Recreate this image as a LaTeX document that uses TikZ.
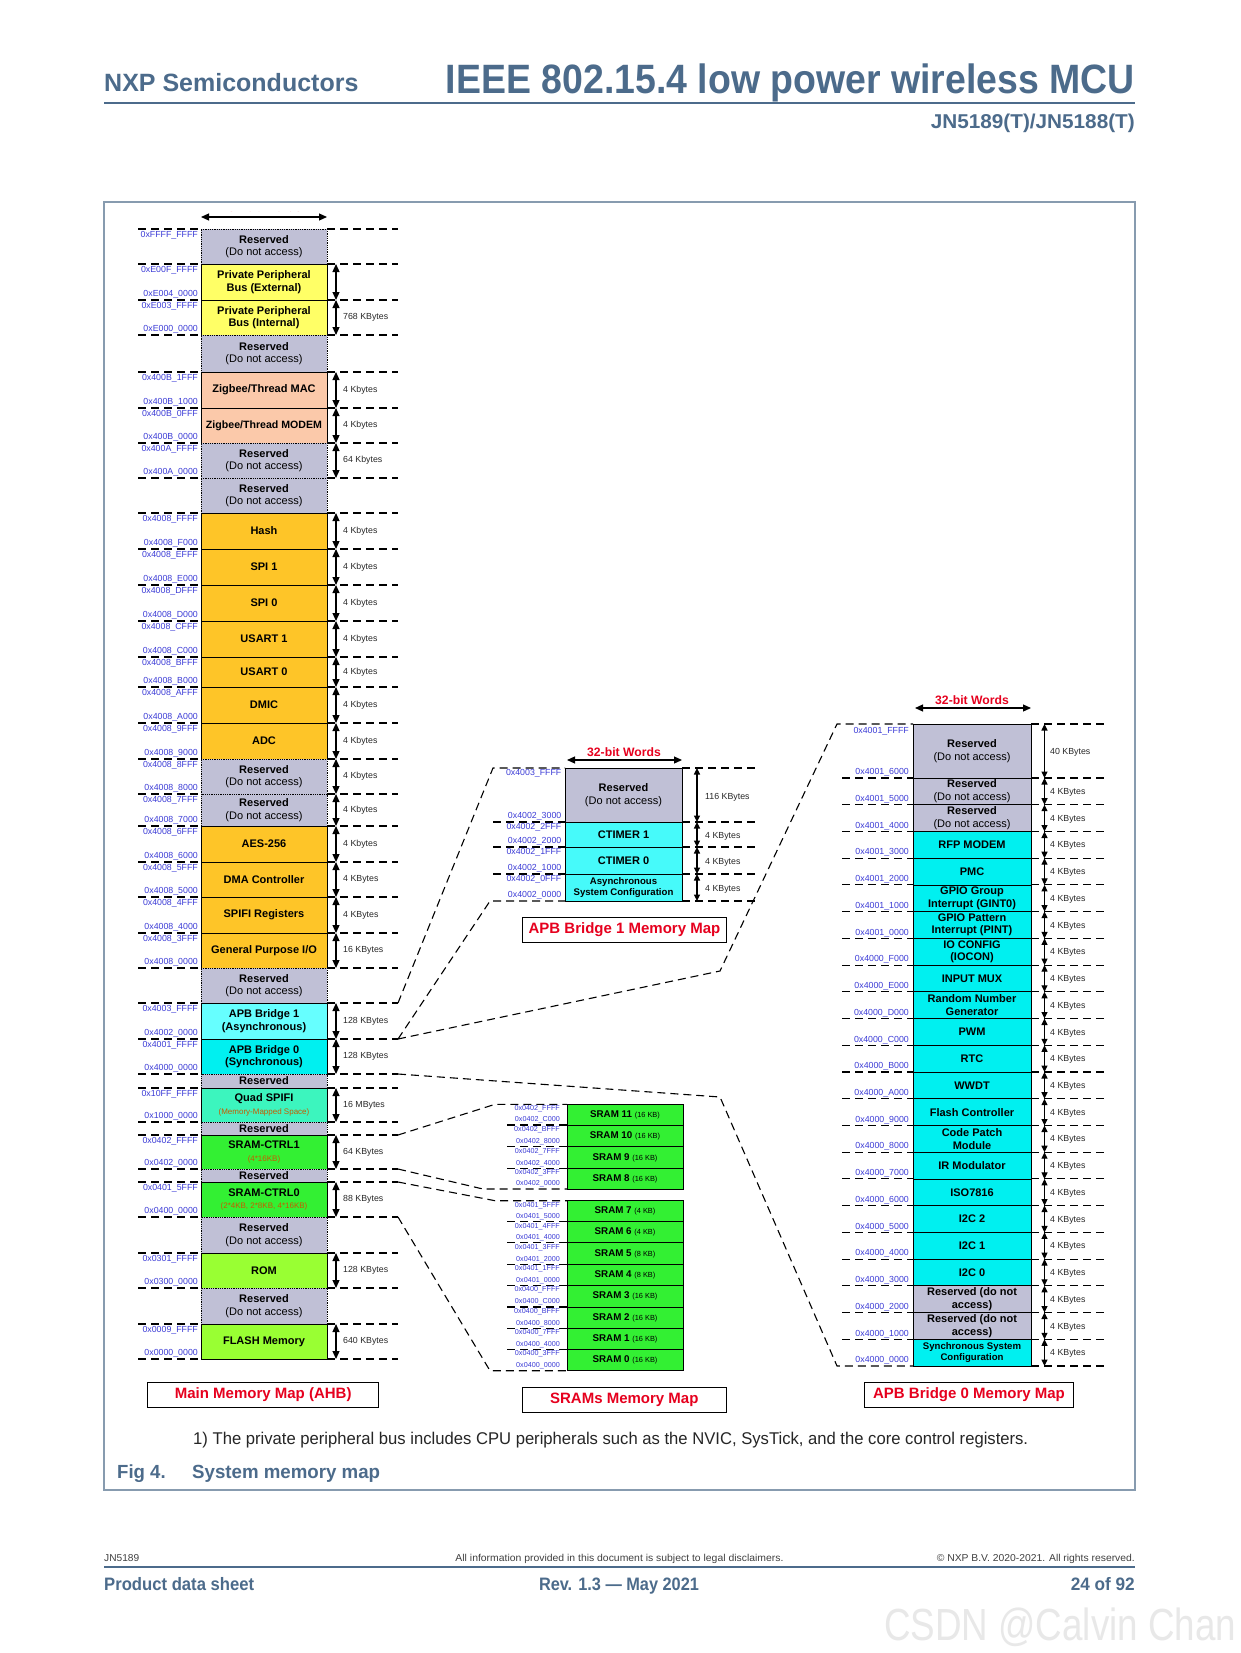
\documentclass[tikz,border=0pt]{standalone}
\usepackage{fontspec}
\setmainfont{Liberation Sans}
\usetikzlibrary{arrows.meta}
\definecolor{resv}{RGB}{192,192,214}
\definecolor{yel}{RGB}{255,255,102}
\definecolor{peach}{RGB}{251,201,170}
\definecolor{orng}{RGB}{254,197,40}
\definecolor{lcyan}{RGB}{102,255,255}
\definecolor{cyn}{RGB}{0,240,240}
\definecolor{tcyan}{RGB}{70,250,250}
\definecolor{aqua}{RGB}{60,245,190}
\definecolor{grn}{RGB}{51,240,51}
\definecolor{lime}{RGB}{153,255,51}
\definecolor{addrc}{RGB}{60,60,215}
\definecolor{subc}{RGB}{200,90,0}
\definecolor{redc}{RGB}{230,0,30}
\definecolor{hdr}{RGB}{76,107,139}
\definecolor{framec}{RGB}{135,155,175}
\definecolor{sizec}{RGB}{40,40,40}
\newcommand{\fs}[2]{\fontsize{#1}{#2}\selectfont}
\newcommand{\fitw}[2]{\resizebox{#1}{\height}{#2}}
\tikzset{
 cell/.style={draw, line width=0.8pt, inner sep=0pt, outer sep=0pt, align=center, font=\fs{11}{12.5}\bfseries, text=black},
 mcell/.style={cell, minimum width=126pt},
 rcell/.style={mcell, fill=resv, densely dotted},
 ocell/.style={mcell, fill=orng},
 addr/.style={anchor=east, inner sep=0pt, font=\fs{8.8}{9}, text=addrc},
 saddr/.style={anchor=east, inner sep=0pt, font=\fs{7.2}{8}, text=addrc},
 sz/.style={anchor=west, inner sep=0pt, font=\fs{8.8}{9}, text=sizec},
 dim/.style={{Triangle[length=8pt,width=7pt]}-{Triangle[length=8pt,width=7pt]}, line width=1.2pt},
 sdim/.style={{Triangle[length=6.5pt,width=6pt]}-{Triangle[length=6.5pt,width=6pt]}, line width=1.1pt},
 dsh/.style={dash pattern=on 8pt off 5pt, line width=1.1pt},
 mtitle/.style={draw, line width=1pt, inner sep=0pt, minimum height=25pt, font=\fs{15}{16}\bfseries, text=redc},
 wtitle/.style={inner sep=0pt, font=\fs{12.2}{13}\bfseries, text=redc},
 smallbold/.style={font=\fs{9.6}{11.5}\bfseries},
}
% main map row: name, y1, y2, style, text, top address, bottom address
\newcommand{\mrow}[7]{%
 \pgfmathsetmacro{\rowh}{#3-#2}%
 \node[#4, minimum height=\rowh pt, anchor=north west] (#1) at (201,#2) {#5};%
 \if\relax\detokenize{#6}\relax\else\node[addr] (#1t) at (198,#2+6.5) {#6};\fi
 \if\relax\detokenize{#7}\relax\else\node[addr] (#1b) at (198,#3-6) {#7};\fi
}
\newcommand{\msize}[2]{%
 \draw[dim] ([xshift=9pt]#1.north east) -- ([xshift=9pt]#1.south east);
 \if\relax\detokenize{#2}\relax\else\node[sz] (#1s) at ([xshift=16pt]#1.east) {#2};\fi
}
% APB bridge 1 row
\newcommand{\prow}[8]{%
 \pgfmathsetmacro{\rowh}{#3-#2}%
 \node[#4, minimum width=117pt, minimum height=\rowh pt, anchor=north west] (#1) at (565,#2) {#5};
 \node[addr] (#1t) at (561.5,#2+5.5) {#6};
 \node[addr] (#1b) at (561.5,#3-5.5) {#7};
 \draw[sdim] ([xshift=15pt]#1.north east) -- ([xshift=15pt]#1.south east);
 \node[sz] (#1s) at ([xshift=23pt,yshift=-2pt]#1.east) {#8};
}
% APB bridge 0 row
\newcommand{\brow}[7]{%
 \pgfmathsetmacro{\rowh}{#3-#2}%
 \node[#4, minimum width=118pt, minimum height=\rowh pt, anchor=north west] (#1) at (913,#2) {#5};
 \node[addr] (#1b) at (909,#3-5.5) {#6};
 \draw[sdim] ([xshift=13.5pt]#1.north east) -- ([xshift=13.5pt]#1.south east);
 \node[sz] (#1s) at ([xshift=19pt,yshift=-1pt]#1.east) {#7};
}
% SRAM row
\newcommand{\srow}[7]{%
 \pgfmathsetmacro{\rowh}{#3-#2}%
 \node[cell, fill=grn, font=\fs{9.8}{11}\bfseries, minimum width=116pt, minimum height=\rowh pt, anchor=north west] (#1) at (567,#2) {SRAM #4 {\mdseries\fs{7.4}{8}(#5)}};
 \node[saddr] (#1t) at (560,#2+4.5) {#6};
 \node[saddr] (#1b) at (560,#3-5) {#7};
}
\begin{document}
\begin{tikzpicture}[x=1pt,y=-1pt]
\useasboundingbox (0,0) rectangle (1240,1653);
\fill[white] (0,0) rectangle (1240,1653);

% header
\node[anchor=base west, inner sep=0pt, text=hdr, font=\fs{25}{26}\bfseries] (nxp) at (104,91.7) {NXP Semiconductors};
\node[anchor=base east, inner sep=0pt, text=hdr] (ttl) at (1135,93.8) {\fitw{689pt}{\fs{41}{43}\bfseries IEEE 802.15.4 low power wireless MCU}};
\draw[hdr, line width=1.2pt] (104,103) -- (1135,103);
\node[anchor=base east, inner sep=0pt, text=hdr] (part) at (1135,128.6) {\fitw{204pt}{\fs{20}{21}\bfseries JN5189(T)/JN5188(T)}};

% frame
\draw[framec, line width=1.5pt] (104,202) rectangle (1135,1490);

% ---------------- main memory map ----------------
\foreach \y in {229,264,300,335,372,408,443,478,513,549,585,621,657,687,723,759,794,826,862,897,933,968,1003,1039,1074,1088,1122,1135,1169,1182,1217,1253,1288,1324,1359}
 {\draw[dsh] (138,\y) -- (201,\y); \draw[dsh] (327,\y) -- (398,\y);}

\mrow{m1}{229}{264}{rcell}{Reserved\\{\mdseries(Do not access)}}{0xFFFF\_FFFF}{}
\mrow{m2}{264}{300}{mcell,fill=yel}{Private Peripheral\\Bus (External)}{0xE00F\_FFFF}{0xE004\_0000}
\mrow{m3}{300}{335}{mcell,fill=yel}{Private Peripheral\\Bus (Internal)}{0xE003\_FFFF}{0xE000\_0000}
\mrow{m4}{335}{372}{rcell}{Reserved\\{\mdseries(Do not access)}}{}{}
\mrow{m5}{372}{408}{mcell,fill=peach}{Zigbee/Thread MAC}{0x400B\_1FFF}{0x400B\_1000}
\mrow{m6}{408}{443}{mcell,fill=peach,font=\fs{10.6}{12}\bfseries}{Zigbee/Thread MODEM}{0x400B\_0FFF}{0x400B\_0000}
\mrow{m7}{443}{478}{rcell}{Reserved\\{\mdseries(Do not access)}}{0x400A\_FFFF}{0x400A\_0000}
\mrow{m8}{478}{513}{rcell}{Reserved\\{\mdseries(Do not access)}}{}{}
\mrow{m9}{513}{549}{ocell}{Hash}{0x4008\_FFFF}{0x4008\_F000}
\mrow{m10}{549}{585}{ocell}{SPI 1}{0x4008\_EFFF}{0x4008\_E000}
\mrow{m11}{585}{621}{ocell}{SPI 0}{0x4008\_DFFF}{0x4008\_D000}
\mrow{m12}{621}{657}{ocell}{USART 1}{0x4008\_CFFF}{0x4008\_C000}
\mrow{m13}{657}{687}{ocell}{USART 0}{0x4008\_BFFF}{0x4008\_B000}
\mrow{m14}{687}{723}{ocell}{DMIC}{0x4008\_AFFF}{0x4008\_A000}
\mrow{m15}{723}{759}{ocell}{ADC}{0x4008\_9FFF}{0x4008\_9000}
\mrow{m16}{759}{794}{rcell}{Reserved\\{\mdseries(Do not access)}}{0x4008\_8FFF}{0x4008\_8000}
\mrow{m17}{794}{826}{rcell}{Reserved\\{\mdseries(Do not access)}}{0x4008\_7FFF}{0x4008\_7000}
\mrow{m18}{826}{862}{ocell}{AES-256}{0x4008\_6FFF}{0x4008\_6000}
\mrow{m19}{862}{897}{ocell}{DMA Controller}{0x4008\_5FFF}{0x4008\_5000}
\mrow{m20}{897}{933}{ocell}{SPIFI Registers}{0x4008\_4FFF}{0x4008\_4000}
\mrow{m21}{933}{968}{ocell}{General Purpose I/O}{0x4008\_3FFF}{0x4008\_0000}
\mrow{m22}{968}{1003}{rcell}{Reserved\\{\mdseries(Do not access)}}{}{}
\mrow{m23}{1003}{1039}{mcell,fill=lcyan}{APB Bridge 1\\(Asynchronous)}{0x4003\_FFFF}{0x4002\_0000}
\mrow{m24}{1039}{1074}{mcell,fill=cyn}{APB Bridge 0\\(Synchronous)}{0x4001\_FFFF}{0x4000\_0000}
\mrow{m25}{1074}{1088}{rcell}{Reserved}{}{}
\mrow{m26}{1088}{1122}{mcell,fill=aqua}{Quad SPIFI\\{\mdseries\fs{8}{9.5}\color{subc}(Memory-Mapped Space)}}{0x10FF\_FFFF}{0x1000\_0000}
\mrow{m27}{1122}{1135}{rcell}{Reserved}{}{}
\mrow{m28}{1135}{1169}{mcell,fill=grn}{SRAM-CTRL1\\{\mdseries\fs{8}{9.5}\color{subc}(4*16KB)}}{0x0402\_FFFF}{0x0402\_0000}
\mrow{m29}{1169}{1182}{rcell}{Reserved}{}{}
\mrow{m30}{1182}{1217}{mcell,fill=grn}{SRAM-CTRL0\\{\mdseries\fs{8}{9.5}\color{subc}(2*4KB, 2*8KB, 4*16KB)}}{0x0401\_5FFF}{0x0400\_0000}
\mrow{m31}{1217}{1253}{rcell}{Reserved\\{\mdseries(Do not access)}}{}{}
\mrow{m32}{1253}{1288}{mcell,fill=lime}{ROM}{0x0301\_FFFF}{0x0300\_0000}
\mrow{m33}{1288}{1324}{rcell}{Reserved\\{\mdseries(Do not access)}}{}{}
\mrow{m34}{1324}{1359}{mcell,fill=lime}{FLASH Memory}{0x0009\_FFFF}{0x0000\_0000}

\msize{m2}{}
\msize{m3}{768 KBytes}
\msize{m5}{4 Kbytes}
\msize{m6}{4 Kbytes}
\msize{m7}{64 Kbytes}
\msize{m9}{4 Kbytes}
\msize{m10}{4 Kbytes}
\msize{m11}{4 Kbytes}
\msize{m12}{4 Kbytes}
\msize{m13}{4 Kbytes}
\msize{m14}{4 Kbytes}
\msize{m15}{4 Kbytes}
\msize{m16}{4 Kbytes}
\msize{m17}{4 Kbytes}
\msize{m18}{4 Kbytes}
\msize{m19}{4 KBytes}
\msize{m20}{4 KBytes}
\msize{m21}{16 KBytes}
\msize{m23}{128 KBytes}
\msize{m24}{128 KBytes}
\msize{m26}{16 MBytes}
\msize{m28}{64 KBytes}
\msize{m30}{88 KBytes}
\msize{m32}{128 KBytes}
\msize{m34}{640 KBytes}

\draw[dim] ([yshift=12pt]m1.north west) -- ([yshift=12pt]m1.north east);
\begin{scope}
 \clip (190,211.5) rectangle (340,230);
 \node[wtitle] (w0) at (265,207.5) {32-bit Words};
\end{scope}

% ---------------- APB bridge 1 map ----------------
\foreach \y in {822,847,874} {\draw[dsh] (493,\y) -- (565,\y);}
\foreach \y in {768,822,847,874,901} {\draw[dsh] (682,\y) -- (755,\y);}
\prow{p1}{768}{822}{cell,fill=resv}{Reserved\\{\mdseries(Do not access)}}{0x4003\_FFFF}{0x4002\_3000}{116 KBytes}
\prow{p2}{822}{847}{cell,fill=tcyan}{CTIMER 1}{0x4002\_2FFF}{0x4002\_2000}{4 KBytes}
\prow{p3}{847}{874}{cell,fill=tcyan}{CTIMER 0}{0x4002\_1FFF}{0x4002\_1000}{4 KBytes}
\prow{p4}{874}{901}{cell,fill=tcyan,smallbold}{Asynchronous\\System Configuration}{0x4002\_0FFF}{0x4002\_0000}{4 KBytes}
\node[wtitle] (w1) at (624,752) {32-bit Words};
\draw[dim] ([yshift=8pt,xshift=2pt]p1.north west) -- ([yshift=8pt]p1.north east);
\node[mtitle, minimum width=204pt, minimum height=24.6pt] (t4) at (624.5,930) {APB Bridge 1 Memory Map};

% ---------------- APB bridge 0 map ----------------
\foreach \y in {778,804.7,831.5,858.2,884.9,911.6,938.4,965.1,991.8,1018.5,1045.3,1072,1098.7,1125.5,1152.2,1178.9,1205.6,1232.4,1259.1,1285.8,1312.5,1339.3}
 {\draw[dsh] (842,\y) -- (913,\y);}
\foreach \y in {724,778,804.7,831.5,858.2,884.9,911.6,938.4,965.1,991.8,1018.5,1045.3,1072,1098.7,1125.5,1152.2,1178.9,1205.6,1232.4,1259.1,1285.8,1312.5,1339.3,1366}
 {\draw[dsh] (1031,\y) -- (1104,\y);}
\brow{b0}{724}{778}{cell,fill=resv}{Reserved\\{\mdseries(Do not access)}}{0x4001\_6000}{40 KBytes}
\node[addr] (b0t) at (909,731) {0x4001\_FFFF};
\brow{b1}{778}{804.7}{cell,fill=resv}{Reserved\\{\mdseries(Do not access)}}{0x4001\_5000}{4 KBytes}
\brow{b2}{804.7}{831.5}{cell,fill=resv}{Reserved\\{\mdseries(Do not access)}}{0x4001\_4000}{4 KBytes}
\brow{b3}{831.5}{858.2}{cell,fill=cyn}{RFP MODEM}{0x4001\_3000}{4 KBytes}
\brow{b4}{858.2}{884.9}{cell,fill=cyn}{PMC}{0x4001\_2000}{4 KBytes}
\brow{b5}{884.9}{911.6}{cell,fill=cyn}{GPIO Group\\Interrupt (GINT0)}{0x4001\_1000}{4 KBytes}
\brow{b6}{911.6}{938.4}{cell,fill=cyn}{GPIO Pattern\\Interrupt (PINT)}{0x4001\_0000}{4 KBytes}
\brow{b7}{938.4}{965.1}{cell,fill=cyn}{IO CONFIG\\(IOCON)}{0x4000\_F000}{4 KBytes}
\brow{b8}{965.1}{991.8}{cell,fill=cyn}{INPUT MUX}{0x4000\_E000}{4 KBytes}
\brow{b9}{991.8}{1018.5}{cell,fill=cyn}{Random Number\\Generator}{0x4000\_D000}{4 KBytes}
\brow{b10}{1018.5}{1045.3}{cell,fill=cyn}{PWM}{0x4000\_C000}{4 KBytes}
\brow{b11}{1045.3}{1072}{cell,fill=cyn}{RTC}{0x4000\_B000}{4 KBytes}
\brow{b12}{1072}{1098.7}{cell,fill=cyn}{WWDT}{0x4000\_A000}{4 KBytes}
\brow{b13}{1098.7}{1125.5}{cell,fill=cyn}{Flash Controller}{0x4000\_9000}{4 KBytes}
\brow{b14}{1125.5}{1152.2}{cell,fill=cyn}{Code Patch\\Module}{0x4000\_8000}{4 KBytes}
\brow{b15}{1152.2}{1178.9}{cell,fill=cyn}{IR Modulator}{0x4000\_7000}{4 KBytes}
\brow{b16}{1178.9}{1205.6}{cell,fill=cyn}{ISO7816}{0x4000\_6000}{4 KBytes}
\brow{b17}{1205.6}{1232.4}{cell,fill=cyn}{I2C 2}{0x4000\_5000}{4 KBytes}
\brow{b18}{1232.4}{1259.1}{cell,fill=cyn}{I2C 1}{0x4000\_4000}{4 KBytes}
\brow{b19}{1259.1}{1285.8}{cell,fill=cyn}{I2C 0}{0x4000\_3000}{4 KBytes}
\brow{b20}{1285.8}{1312.5}{cell,fill=resv}{Reserved (do not\\access)}{0x4000\_2000}{4 KBytes}
\brow{b21}{1312.5}{1339.3}{cell,fill=resv}{Reserved (do not\\access)}{0x4000\_1000}{4 KBytes}
\brow{b22}{1339.3}{1366}{cell,fill=cyn,smallbold}{Synchronous System\\Configuration}{0x4000\_0000}{4 KBytes}
\node[wtitle] (w2) at (972,700) {32-bit Words};
\draw[dim] ([yshift=16pt,xshift=2pt]b0.north west) -- ([yshift=16pt]b0.north east);
\node[mtitle, minimum width=209pt] (t3) at (969,1395) {APB Bridge 0 Memory Map};

% ---------------- SRAM map ----------------
\foreach \y in {1125,1146.7,1168.3,1221.7,1242.7,1264.3,1285.3,1307,1328.3,1349.3}
 {\draw[dsh] (507,\y) -- (567,\y);}
\srow{s11}{1104.3}{1125}{11}{16 KB}{0x0402\_FFFF}{0x0402\_C000}
\srow{s10}{1125}{1146.7}{10}{16 KB}{0x0402\_BFFF}{0x0402\_8000}
\srow{s9}{1146.7}{1168.3}{9}{16 KB}{0x0402\_7FFF}{0x0402\_4000}
\srow{s8}{1168.3}{1189}{8}{16 KB}{0x0402\_3FFF}{0x0402\_0000}
\srow{s7}{1200.7}{1221.7}{7}{4 KB}{0x0401\_5FFF}{0x0401\_5000}
\srow{s6}{1221.7}{1242.7}{6}{4 KB}{0x0401\_4FFF}{0x0401\_4000}
\srow{s5}{1242.7}{1264.3}{5}{8 KB}{0x0401\_3FFF}{0x0401\_2000}
\srow{s4}{1264.3}{1285.3}{4}{8 KB}{0x0401\_1FFF}{0x0401\_0000}
\srow{s3}{1285.3}{1307}{3}{16 KB}{0x0400\_FFFF}{0x0400\_C000}
\srow{s2}{1307}{1328.3}{2}{16 KB}{0x0400\_BFFF}{0x0400\_8000}
\srow{s1}{1328.3}{1349.3}{1}{16 KB}{0x0400\_7FFF}{0x0400\_4000}
\srow{s0}{1349.3}{1370.7}{0}{16 KB}{0x0400\_3FFF}{0x0400\_0000}
\node[mtitle, minimum width=204.5pt] (t2) at (624.3,1400.3) {SRAMs Memory Map};
\node[mtitle, minimum width=230.5pt] (t1) at (263.2,1394.5) {Main Memory Map (AHB)};

% ---------------- connectors ----------------
\coordinate (bendA) at (720,971);
\coordinate (bendB) at (720,1097);
\draw[dsh] ([xshift=71pt]m23.north east) -- ([xshift=-72pt]p1.north west) -- (p1.north west);
\draw[dsh] ([xshift=71pt]m23.south east) -- ([xshift=-75pt]p4.south west) -- (p4.south west);
\draw[dsh] ([xshift=71pt]m24.north east) -- (bendA) -- ([xshift=-76pt]b0.north west) -- (b0.north west);
\draw[dsh] ([xshift=71pt]m24.south east) -- (bendB) -- ([xshift=-76pt]b22.south west) -- (b22.south west);
\draw[dsh] ([xshift=71pt]m28.north east) -- ([xshift=-72pt]s11.north west) -- (s11.north west);
\draw[dsh] ([xshift=71pt]m28.south east) -- ([xshift=-84pt]s8.south west) -- (s8.south west);
\draw[dsh] ([xshift=71pt]m30.north east) -- ([xshift=-72pt]s7.north west) -- (s7.north west);
\draw[dsh] ([xshift=71pt]m30.south east) -- ([xshift=-77pt]s0.south west) -- (s0.south west);

% ---------------- caption ----------------
\node[anchor=base west, inner sep=0pt, text=black!85] (fn) at (193,1444.5) {\fitw{835pt}{\fs{17}{18}1) The private peripheral bus includes CPU peripherals such as the NVIC, SysTick, and the core control registers.}};
\node[anchor=base west, inner sep=0pt, text=hdr] (fig) at (117,1478) {\fitw{48.5pt}{\fs{19}{20}\bfseries Fig 4.}};
\node[anchor=base west, inner sep=0pt, text=hdr] (figt) at (192,1478) {\fitw{188pt}{\fs{19}{20}\bfseries System memory map}};

% ---------------- footer ----------------
\node[anchor=base west, inner sep=0pt, text=black!75] (f1) at (104,1561.5) {\fitw{35pt}{\fs{10}{11}JN5189}};
\node[anchor=base, inner sep=0pt, text=black!75] (f2) at (619.5,1561.5) {\fitw{328pt}{\fs{10}{11}All information provided in this document is subject to legal disclaimers.}};
\node[anchor=base east, inner sep=0pt, text=black!75] (f3) at (1135,1561.5) {\fitw{198pt}{\fs{10}{11}© NXP B.V. 2020-2021. All rights reserved.}};
\draw[hdr, line width=1.2pt] (104,1567) -- (1135,1567);
\node[anchor=base west, inner sep=0pt, text=hdr] (f4) at (104,1590) {\fitw{150pt}{\fs{18}{19}\bfseries Product data sheet}};
\node[anchor=base, inner sep=0pt, text=hdr] (f5) at (619,1590) {\fitw{160pt}{\fs{18}{19}\bfseries Rev. 1.3 — May 2021}};
\node[anchor=base east, inner sep=0pt, text=hdr] (f6) at (1135,1590) {\fitw{64pt}{\fs{18}{19}\bfseries 24 of 92}};
\node[anchor=base west, inner sep=0pt, text=black!9] (wm) at (884,1640.7) {\fitw{352pt}{\fs{45}{46}CSDN @Calvin Chan}};
\end{tikzpicture}
\end{document}
